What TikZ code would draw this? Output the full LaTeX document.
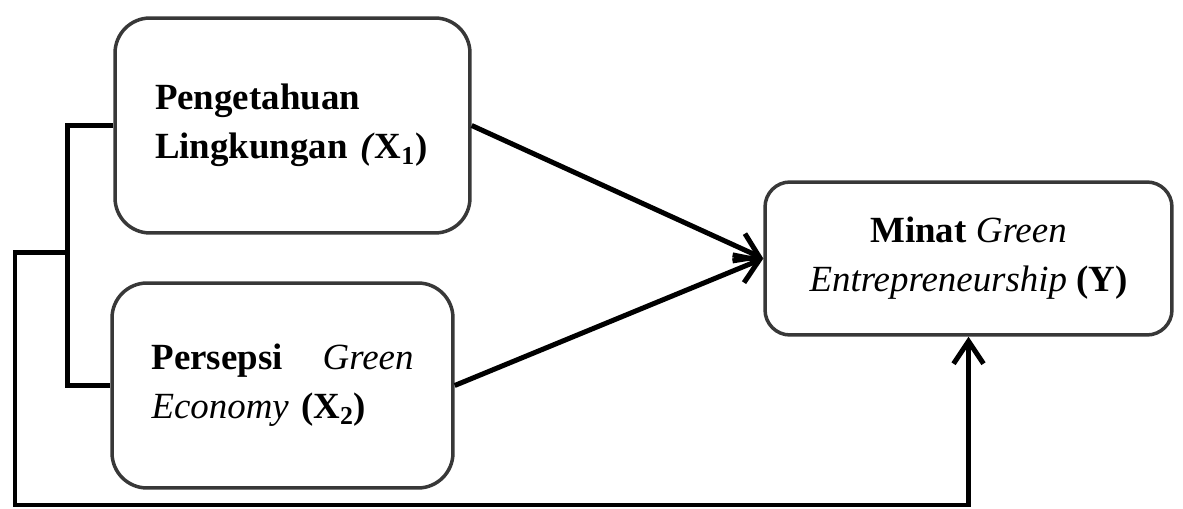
\documentclass[tikz,border=0pt]{standalone}
\usepackage{fontspec}
\setmainfont{Liberation Serif}
\usetikzlibrary{arrows.meta}
\newlength{\boxtextwidth}
\setlength{\boxtextwidth}{5.5cm}

\tikzset{
    varbox/.style={draw=black!78, line width=0.07cm, rounded corners=0.7cm,
        inner sep=0pt, font=\fontsize{21pt}{28pt}\selectfont\bfseries},
    link/.style={line width=0.1cm, black},
    arrow/.style={link, -{Straight Barb[length=0.45cm, width=0.6cm, line width=0.1cm]}}
}

\begin{document}
\begin{tikzpicture}[x=0.02cm, y=-0.02cm]
    \useasboundingbox (0,0) rectangle (1183,509);

    \node[varbox, minimum width=7.1cm, minimum height=4.3cm,
        text width=\boxtextwidth, align=left] (pengetahuan) at (292.5,125.5)
        {Pengetahuan\\Lingkungan \textit{(}X\textsubscript{1})};
    \node[varbox, minimum width=6.82cm, minimum height=4.1cm,
        text width=5.24cm, align=left] (persepsi) at (282.5,385.5)
        {Persepsi\hfill\textit{\mdseries Green}\\\textit{\mdseries Economy} (X\textsubscript{2})};
    \node[varbox, minimum width=8.14cm, minimum height=3.06cm,
        rounded corners=0.5cm, align=center] (minat) at (968.5,258.5)
        {Minat \textit{\mdseries Green}\\\textit{\mdseries Entrepreneurship} (Y)};

    \coordinate (bracket) at (67,253);
    \coordinate (corner) at (15,505);

    % hubungan X1 dan X2
    \draw[link] (pengetahuan.west) -| (bracket) |- (persepsi.west);
    \draw[arrow] (bracket) -| (corner) -| (minat.south);

    \draw[arrow] (pengetahuan.east) -- (minat.west);
    \draw[arrow] (persepsi.east) -- (minat.west);
\end{tikzpicture}
\end{document}
